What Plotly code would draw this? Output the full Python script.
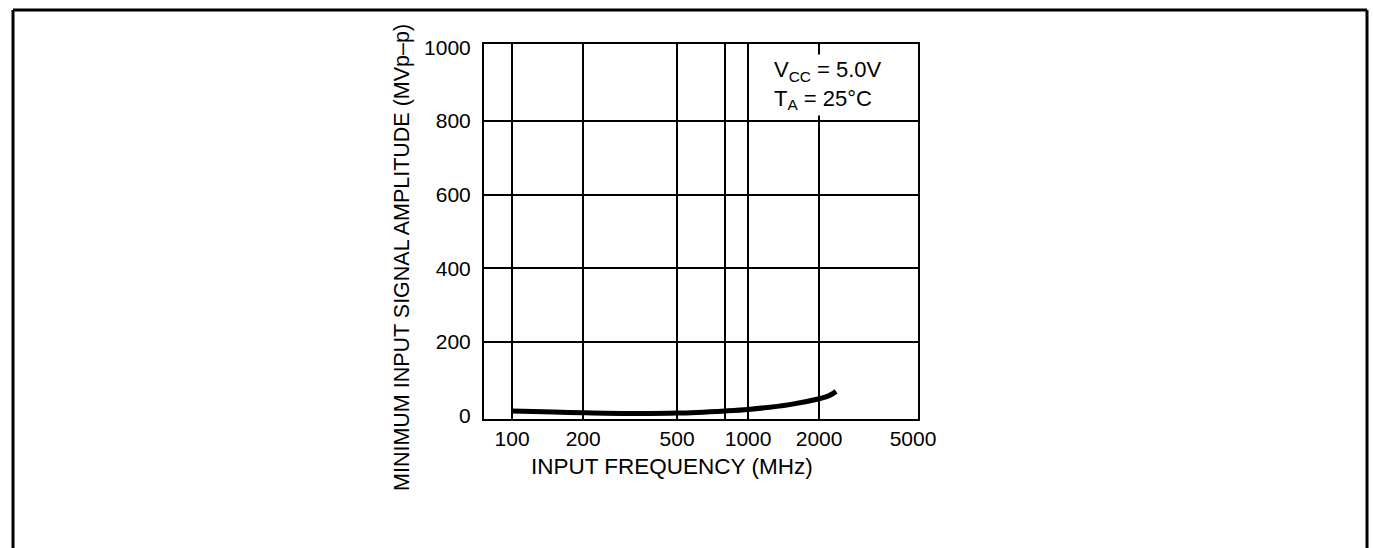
import plotly.graph_objects as go
import math

# Data
freq_mhz = [100, 150, 200, 300, 500, 800, 1000, 1500, 2000, 2200, 2360]
amp_mvpp = [13, 10, 8, 6, 7, 13, 17, 30, 46, 54, 66]

x_tickvals = [100, 200, 500, 1000, 2000, 5000]
x_ticktext = ["100", "200", "500", "1000", "2000", "5000"]
x_gridvals = [100, 200, 500, 800, 1000, 2000]
y_tickvals = [0, 200, 400, 600, 800, 1000]
y_gridvals = [200, 400, 600, 800]

W, H = 1373, 548
L, R, T, B = 484, 918, 44, 419
FONT = "Liberation Sans, Arial, Helvetica, sans-serif"

def px(xp):
    return (xp - L) / (R - L)

def py(yp):
    return (B - yp) / (B - T)

fig = go.Figure()
fig.add_trace(go.Scatter(
    x=freq_mhz, y=amp_mvpp, mode="lines",
    line=dict(color="black", width=5, shape="spline", smoothing=0.8),
    showlegend=False, hoverinfo="skip",
))

fig.update_layout(
    width=W, height=H,
    margin=dict(l=L, r=W - R, t=T, b=H - B, autoexpand=False),
    paper_bgcolor="white", plot_bgcolor="white",
    font=dict(family=FONT, color="black", size=21),
    xaxis=dict(
        type="log",
        range=[math.log10(76), math.log10(5250)],
        tickmode="array", tickvals=x_tickvals, ticktext=x_ticktext,
        showgrid=False, ticks="", ticklen=0,
        minor=dict(tickmode="array", tickvals=x_gridvals, showgrid=True,
                   gridcolor="black", gridwidth=2, ticks=""),
        showline=True, linecolor="black", linewidth=2, mirror=True,
        zeroline=False,
        tickfont=dict(size=21),
        automargin=False,
    ),
    yaxis=dict(
        range=[-9, 1009],
        tickmode="array", tickvals=y_tickvals,
        showgrid=False,
        minor=dict(tickmode="array", tickvals=y_gridvals, showgrid=True,
                   gridcolor="black", gridwidth=2, ticks=""),
        ticks="", showline=True, linecolor="black", linewidth=2, mirror=True,
        zeroline=False,
        tickfont=dict(size=21),
        ticklabelstandoff=7,
        automargin=False,
    ),
    annotations=[
        dict(
            text="MINIMUM INPUT SIGNAL AMPLITUDE (MVp–p)",
            xref="paper", yref="paper", x=px(401.5), y=py(257.5),
            xanchor="center", yanchor="middle", textangle=-90,
            showarrow=False, font=dict(size=21.5, family=FONT),
        ),
        dict(
            text="INPUT FREQUENCY (MHz)",
            xref="paper", yref="paper", x=px(672), y=py(466),
            xanchor="center", yanchor="middle",
            showarrow=False, font=dict(size=22.5, family=FONT),
        ),
        dict(
            text="V<sub>CC</sub> = 5.0V<br>T<sub>A</sub> = 25°C",
            xref="paper", yref="paper", x=px(771), y=py(85),
            xanchor="left", yanchor="middle", align="left",
            showarrow=False, bgcolor="white", borderpad=2,
            font=dict(size=22, family=FONT),
        ),
    ],
    shapes=[
        dict(type="line", xref="paper", yref="paper",
             x0=px(13), y0=py(10), x1=px(13), y1=py(560),
             line=dict(color="black", width=3)),
        dict(type="line", xref="paper", yref="paper",
             x0=px(13), y0=py(10), x1=px(1367), y1=py(10),
             line=dict(color="black", width=3)),
        dict(type="line", xref="paper", yref="paper",
             x0=px(1367), y0=py(10), x1=px(1367), y1=py(560),
             line=dict(color="black", width=3)),
    ],
)

fig.write_html(
    "out.html",
    config={"displayModeBar": False},
    post_script="document.body.style.margin='0';document.body.style.padding='0';document.body.style.overflow='hidden';",
)
